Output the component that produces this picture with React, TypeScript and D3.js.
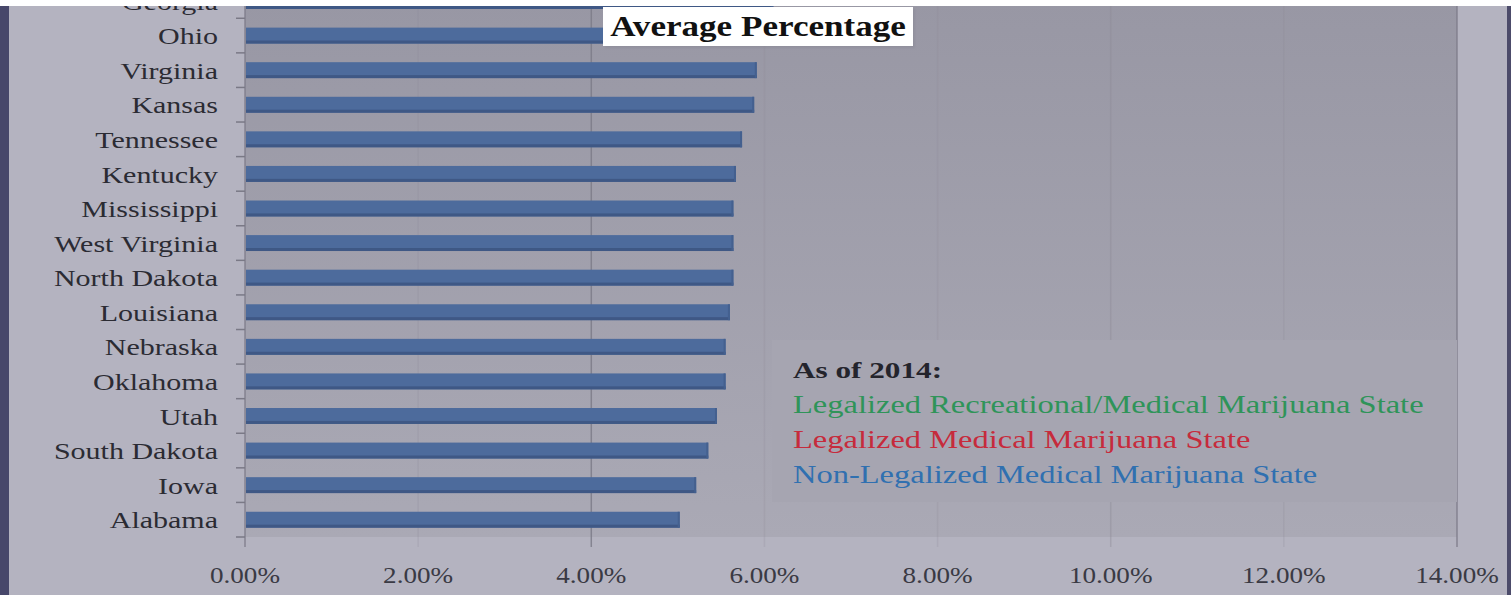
import React, { useEffect } from 'react';
import * as d3 from 'd3';

// states from top (partly cut off) to bottom
const states = [
  'Georgia', 'Ohio', 'Virginia', 'Kansas', 'Tennessee', 'Kentucky', 'Mississippi',
  'West Virginia', 'North Dakota', 'Louisiana', 'Nebraska', 'Oklahoma', 'Utah',
  'South Dakota', 'Iowa', 'Alabama',
];
// average percentage per state
const avgPct = [
  6.09, 5.95, 5.9, 5.87, 5.73, 5.66, 5.63, 5.63, 5.63, 5.59, 5.54, 5.54, 5.44, 5.34, 5.2, 5.01,
];
const xTicks = [0, 2, 4, 6, 8, 10, 12, 14];

const legendTitle = 'As of 2014:';
const legendLabels = [
  'Legalized Recreational/Medical Marijuana State',
  'Legalized Medical Marijuana State',
  'Non-Legalized Medical Marijuana State',
];
const legendColors = ['#2f9459', '#c62b3c', '#3070b0'];

const W = 1511;
const H = 595;
const SERIF = '"Liberation Serif", "Times New Roman", serif';
const SX = 1.25; // text in the picture is drawn a bit wide

export default function App() {
  useEffect(() => {
    document.body.style.margin = '0';
  }, []);

  const plotLeft = 245;
  const plotRight = 1457;
  const plotBottom = 537;

  const x = d3.scaleLinear().domain([0, 14]).range([plotLeft, plotRight]);
  const y = d3
    .scaleBand<string>()
    .domain(states)
    .range([-16.3, plotBottom])
    .paddingInner(0.54)
    .paddingOuter(0.27);

  const bw = y.bandwidth();
  const gap = (y.step() - bw) / 2;
  const boundaries = states.map((s) => (y(s) as number) - gap).concat([plotBottom]);
  const fmt = d3.format('.2f');

  return (
    <svg width={W} height={H} style={{ position: 'absolute', left: 0, top: 0, display: 'block' }}>
      <defs>
        <linearGradient id="plotBg" x1="0" y1="0" x2="0" y2="1">
          <stop offset="0" stopColor="#9897a4" />
          <stop offset="1" stopColor="#aaa9b5" />
        </linearGradient>
        <filter id="soft" x="-5%" y="-20%" width="110%" height="140%">
          <feGaussianBlur stdDeviation="1.2" />
        </filter>
      </defs>

      {/* page background */}
      <rect x={0} y={0} width={W} height={H} fill="#b4b3c0" />
      <rect x={0} y={0} width={9} height={H} fill="#47476a" />
      <rect x={W - 4} y={0} width={4} height={H} fill="#4c4b6a" />

      {/* plot area */}
      <rect x={plotLeft} y={0} width={plotRight - plotLeft} height={plotBottom} fill="url(#plotBg)" />

      {/* gridlines */}
      {xTicks.map((t) => {
        const strong = t === 0 || t === 4 || t === 14;
        return (
          <line
            key={'g' + t}
            x1={x(t)}
            x2={x(t)}
            y1={0}
            y2={547}
            stroke={strong ? '#7c7b88' : '#8b8a97'}
            strokeWidth={1.5}
            strokeOpacity={strong ? 0.85 : t === 10 ? 0.4 : 0.22}
          />
        );
      })}

      {/* y-axis ticks */}
      {boundaries.map((b, i) => (
        <line key={'t' + i} x1={236} x2={plotLeft} y1={b} y2={b} stroke="#7a7986" strokeWidth={1.5} />
      ))}

      {/* bars */}
      {states.map((s, i) => {
        const y0 = y(s) as number;
        const w = x(avgPct[i]) - x(0);
        return (
          <g key={s}>
            <rect x={x(0) + 1} y={y0} width={w} height={bw} fill="#4d6b9c" />
            <rect x={x(0) + 1} y={y0 + bw - 3} width={w} height={3} fill="#3f5885" />
            <rect x={x(0) + w - 1} y={y0} width={2} height={bw} fill="#44608f" />
          </g>
        );
      })}

      {/* state labels */}
      <g transform={`translate(218,0) scale(${SX},1)`}>
        {states.map((s) => (
          <text
            key={'l' + s}
            x={0}
            y={(y(s) as number) + bw / 2}
            dy="0.36em"
            textAnchor="end"
            fontFamily={SERIF}
            fontSize={24}
            fill="#2b2b33"
          >
            {s}
          </text>
        ))}
      </g>

      {/* x-axis labels */}
      {xTicks.map((t) => (
        <text
          key={'x' + t}
          transform={`translate(${x(t)},583) scale(1.18,1)`}
          textAnchor="middle"
          fontFamily={SERIF}
          fontSize={23}
          fill="#3a3a44"
        >
          {fmt(t) + '%'}
        </text>
      ))}

      {/* legend box */}
      <rect x={772} y={340} width={plotRight - 772} height={162} fill="#a6a5b1" />
      <g transform={`translate(793,0) scale(1.3,1)`} fontFamily={SERIF} fontSize={25}>
        <text x={0} y={378} fill="#24242c" fontWeight="bold" fontSize={24}>
          {legendTitle}
        </text>
        {legendLabels.map((l, i) => (
          <text key={l} x={0} y={413 + i * 35} fill={legendColors[i]}>
            {l}
          </text>
        ))}
      </g>

      {/* title */}
      <rect x={605} y={9} width={310} height={39} fill="#8c8b98" filter="url(#soft)" opacity={0.6} />
      <rect x={603} y={7} width={310} height={39} fill="#ffffff" />
      <text
        transform={`translate(758,36) scale(1.17,1)`}
        textAnchor="middle"
        fontFamily={SERIF}
        fontWeight="bold"
        fontSize={30}
        fill="#111"
      >
        Average Percentage
      </text>

      {/* white strip at the top edge */}
      <rect x={0} y={0} width={W} height={6} fill="#ffffff" />
    </svg>
  );
}
